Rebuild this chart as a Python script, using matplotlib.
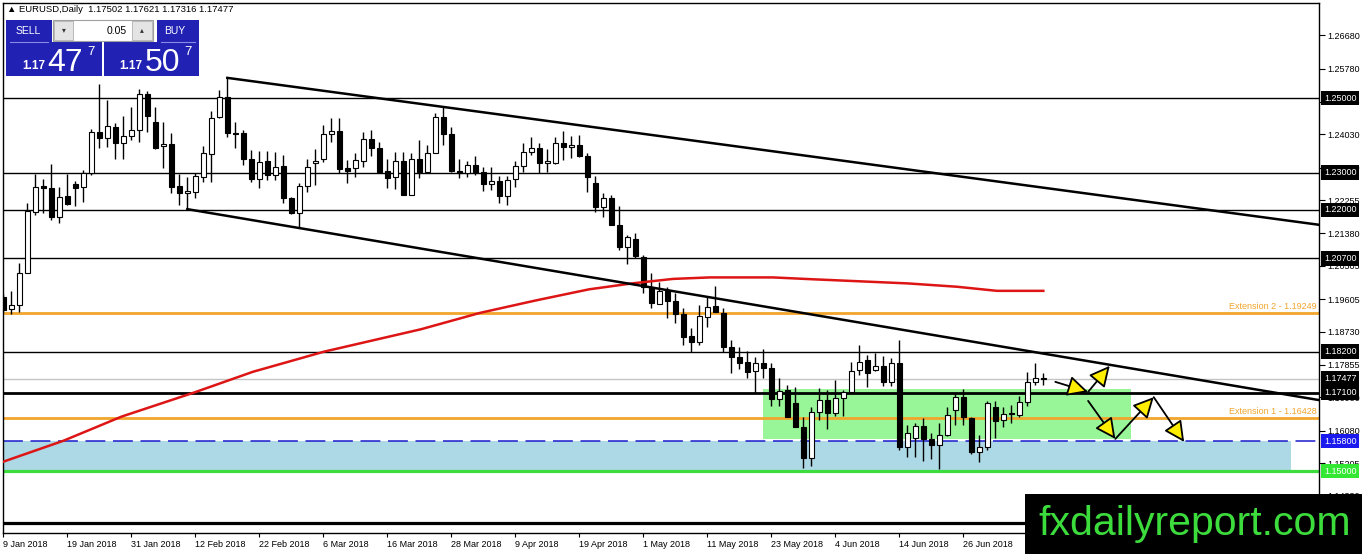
import matplotlib
matplotlib.use('Agg')
import matplotlib.pyplot as plt
import matplotlib.transforms as mtransforms
from matplotlib.patches import Rectangle, FancyArrowPatch
import numpy as np

plt.rcParams['font.family'] = ['Liberation Sans', 'DejaVu Sans']

# EURUSD daily candles (bar 0 = 9 Jan 2018)
opens = [1.1966, 1.1934, 1.1945, 1.2031, 1.2194, 1.2264, 1.2259, 1.2181, 1.2237, 1.2269,
         1.2261, 1.2299, 1.2409, 1.2393, 1.2422, 1.2379, 1.2398, 1.2414, 1.2511, 1.2436,
         1.2371, 1.2377, 1.2264, 1.2245, 1.2248, 1.2288, 1.2350, 1.2449, 1.2503, 1.2406,
         1.2406, 1.2336, 1.2283, 1.2331, 1.2294, 1.2318, 1.2232, 1.2192, 1.2264, 1.2326,
         1.2336, 1.2403, 1.2412, 1.2312, 1.2312, 1.2331, 1.2390, 1.2366, 1.2304, 1.2288,
         1.2331, 1.2240, 1.2336, 1.2302, 1.2353, 1.2449, 1.2403, 1.2304, 1.2299, 1.2320,
         1.2302, 1.2269, 1.2277, 1.2237, 1.2283, 1.2318, 1.2355, 1.2366, 1.2326, 1.2326,
         1.2379, 1.2369, 1.2374, 1.2345, 1.2272, 1.2208, 1.2232, 1.2160, 1.2101, 1.2122,
         1.2074, 1.1993, 1.1948, 1.1983, 1.1956, 1.1921, 1.1862, 1.1846, 1.1913, 1.1942,
         1.1924, 1.1832, 1.1806, 1.1792, 1.1768, 1.1790, 1.1776, 1.1693, 1.1717, 1.1682,
         1.1618, 1.1535, 1.1658, 1.1690, 1.1655, 1.1696, 1.1712, 1.1771, 1.1798, 1.1771,
         1.1782, 1.1739, 1.1790, 1.1564, 1.1588, 1.1621, 1.1586, 1.1570, 1.1597, 1.1664,
         1.1698, 1.1642, 1.1550, 1.1564, 1.1672, 1.1637, 1.1656, 1.1650, 1.1685, 1.1739,
         1.17502]
highs = [1.1975, 1.1983, 1.2058, 1.2218, 1.2296, 1.2283, 1.2323, 1.2261, 1.2296, 1.2277,
         1.2307, 1.2417, 1.2538, 1.2495, 1.2433, 1.2452, 1.2476, 1.2524, 1.2519, 1.2476,
         1.2436, 1.2406, 1.2296, 1.2288, 1.2299, 1.2371, 1.2465, 1.2521, 1.2554, 1.2436,
         1.2414, 1.2361, 1.2358, 1.2358, 1.2355, 1.2347, 1.2235, 1.2272, 1.2336, 1.2363,
         1.2428, 1.2446, 1.2446, 1.2334, 1.2353, 1.2409, 1.2414, 1.2382, 1.2336, 1.2355,
         1.2355, 1.2353, 1.2387, 1.2374, 1.2460, 1.2476, 1.2422, 1.2336, 1.2331, 1.2345,
         1.2315, 1.2315, 1.2291, 1.2291, 1.2331, 1.2379, 1.2395, 1.2379, 1.2363, 1.2395,
         1.2412, 1.2398, 1.2401, 1.2353, 1.2291, 1.2245, 1.2240, 1.2210, 1.2133, 1.2138,
         1.2079, 1.2031, 1.2007, 1.1993, 1.1977, 1.1937, 1.1883, 1.1945, 1.1966, 1.1996,
         1.1937, 1.1851, 1.1832, 1.1822, 1.1806, 1.1827, 1.1790, 1.1749, 1.1731, 1.1725,
         1.1645, 1.1672, 1.1723, 1.1717, 1.1744, 1.1717, 1.1792, 1.1838, 1.1811, 1.1816,
         1.1808, 1.1803, 1.1851, 1.1623, 1.1629, 1.1642, 1.1602, 1.1629, 1.1672, 1.1709,
         1.1720, 1.1645, 1.1597, 1.1688, 1.1688, 1.1672, 1.1677, 1.1701, 1.1765, 1.1790,
         1.17621]
lows = [1.1926, 1.1921, 1.1926, 1.2031, 1.2186, 1.2192, 1.2173, 1.2165, 1.2213, 1.2210,
        1.2221, 1.2294, 1.2366, 1.2369, 1.2336, 1.2336, 1.2387, 1.2382, 1.2409, 1.2363,
        1.2312, 1.2245, 1.2213, 1.2205, 1.2232, 1.2275, 1.2275, 1.2446, 1.2395, 1.2366,
        1.2320, 1.2275, 1.2259, 1.2280, 1.2280, 1.2218, 1.2189, 1.2154, 1.2248, 1.2267,
        1.2328, 1.2382, 1.2299, 1.2272, 1.2288, 1.2315, 1.2345, 1.2302, 1.2259, 1.2256,
        1.2240, 1.2240, 1.2286, 1.2302, 1.2353, 1.2374, 1.2302, 1.2286, 1.2288, 1.2294,
        1.2251, 1.2253, 1.2218, 1.2213, 1.2261, 1.2302, 1.2347, 1.2299, 1.2302, 1.2323,
        1.2334, 1.2339, 1.2342, 1.2248, 1.2194, 1.2181, 1.2160, 1.2092, 1.2055, 1.2071,
        1.1977, 1.1937, 1.1948, 1.1910, 1.1897, 1.1838, 1.1819, 1.1838, 1.1886, 1.1926,
        1.1819, 1.1763, 1.1773, 1.1749, 1.1709, 1.1749, 1.1674, 1.1674, 1.1645, 1.1618,
        1.1508, 1.1513, 1.1637, 1.1613, 1.1647, 1.1647, 1.1712, 1.1757, 1.1725, 1.1768,
        1.1728, 1.1728, 1.1556, 1.1538, 1.1538, 1.1527, 1.1532, 1.1505, 1.1594, 1.1623,
        1.1623, 1.1546, 1.1524, 1.1556, 1.1588, 1.1618, 1.1629, 1.1645, 1.1674, 1.1731,
        1.17316]
closes = [1.1932, 1.1945, 1.2031, 1.2197, 1.2261, 1.2259, 1.2181, 1.2235, 1.2216, 1.2259,
          1.2299, 1.2409, 1.2393, 1.2425, 1.2379, 1.2398, 1.2414, 1.2511, 1.2452, 1.2366,
          1.2377, 1.2261, 1.2245, 1.2251, 1.2291, 1.2353, 1.2446, 1.2503, 1.2406, 1.2403,
          1.2336, 1.2283, 1.2328, 1.2294, 1.2315, 1.2232, 1.2192, 1.2264, 1.2315, 1.2331,
          1.2403, 1.2412, 1.2310, 1.2304, 1.2334, 1.2390, 1.2366, 1.2302, 1.2286, 1.2331,
          1.2240, 1.2336, 1.2302, 1.2353, 1.2449, 1.2403, 1.2304, 1.2299, 1.2320, 1.2302,
          1.2269, 1.2277, 1.2237, 1.2280, 1.2318, 1.2355, 1.2366, 1.2326, 1.2331, 1.2379,
          1.2369, 1.2374, 1.2345, 1.2288, 1.2208, 1.2232, 1.2160, 1.2101, 1.2127, 1.2076,
          1.1993, 1.1950, 1.1983, 1.1956, 1.1921, 1.1859, 1.1846, 1.1916, 1.1940, 1.1926,
          1.1832, 1.1806, 1.1790, 1.1765, 1.1790, 1.1776, 1.1693, 1.1715, 1.1645, 1.1618,
          1.1535, 1.1658, 1.1690, 1.1655, 1.1696, 1.1712, 1.1768, 1.1792, 1.1763, 1.1782,
          1.1739, 1.1790, 1.1564, 1.1602, 1.1621, 1.1586, 1.1570, 1.1597, 1.1650, 1.1698,
          1.1645, 1.1550, 1.1564, 1.1682, 1.1634, 1.1653, 1.1653, 1.1685, 1.1739, 1.1749,
          1.17477]

date_labels = ['9 Jan 2018', '19 Jan 2018', '31 Jan 2018', '12 Feb 2018', '22 Feb 2018',
               '6 Mar 2018', '16 Mar 2018', '28 Mar 2018', '9 Apr 2018', '19 Apr 2018',
               '1 May 2018', '11 May 2018', '23 May 2018', '4 Jun 2018', '14 Jun 2018',
               '26 Jun 2018']
date_step = 8

# slow moving average (red), sampled along the line
ma_bars = [0, 7.5, 14.8, 23.8, 31.2, 40.1, 52.2, 59.6, 66.5, 73.2, 78.6, 83.7, 88.3,
           96.2, 101.2, 105.5, 113, 119.2, 124.2, 130]
ma_vals = [1.1525, 1.1581, 1.1646, 1.1710, 1.1766, 1.1820, 1.1880, 1.1924, 1.1957,
           1.1987, 1.2003, 1.2015, 1.2019, 1.2019, 1.2014, 1.2010, 1.2003, 1.1994,
           1.1983, 1.1983]

price_ticks = [1.26680, 1.25780, 1.24905, 1.24030, 1.23130, 1.22255, 1.21380, 1.20505,
               1.19605, 1.18730, 1.17855, 1.16980, 1.16080, 1.15205, 1.14330]

black_levels = [1.25, 1.23, 1.22, 1.207, 1.182]
support_level = 1.171
current_price = 1.17477
ext_names = ['Extension 2', 'Extension 1']
ext_levels = [1.19249, 1.16428]
dashed_level = 1.158
green_level = 1.150
bottom_level = 1.136

upper_trend = [(28, 1.2554), (164.5, 1.2160)]
lower_trend = [(23, 1.2202), (164.5, 1.1690)]

green_zone = (95.0, 141.0, 1.1586, 1.1720)
blue_zone = (-0.1, 161.0, 1.150, 1.158)

arrow_path_a = [(131.5, 1.1739), (135.6, 1.1712), (138.3, 1.1782)]
arrow_path_b = [(135.6, 1.1688), (139.0, 1.1586), (143.8, 1.1698), (147.6, 1.1578)]

header = '\u25b2 EURUSD,Daily  1.17502 1.17621 1.17316 1.17477'

W, H = 1362, 554
fig = plt.figure(figsize=(W / 100, H / 100), dpi=100)
fig.patch.set_facecolor('white')
ax = fig.add_axes([3 / W, (H - 533) / H, 1316 / W, 530 / H])
ax.set_xlim(-0.04, 164.46)
ax.set_ylim(1.13338, 1.27547)

orange = '#f2a52c'
green = '#3ddc3d'

# zones
gx0, gx1, gy0, gy1 = green_zone
ax.add_patch(Rectangle((gx0, gy0), gx1 - gx0, gy1 - gy0, fc='#98f598', ec='none', zorder=0.5))
bx0, bx1, by0, by1 = blue_zone
ax.add_patch(Rectangle((bx0, by0), bx1 - bx0, by1 - by0, fc='#add8e6', ec='none', zorder=0.4))

# horizontal levels
for lv in black_levels:
    ax.axhline(lv, color='black', lw=1, zorder=1)
ax.axhline(support_level, color='black', lw=2, zorder=1)
ax.axhline(current_price, color='#c4c4c4', lw=1, zorder=1)
ax.axhline(dashed_level, color='#1a1acc', lw=1.1, dashes=(13, 5), zorder=1)
ax.axhline(green_level, color=green, lw=2.3, zorder=1)
ax.axhline(bottom_level, color='black', lw=2.3, zorder=1)
trans_mix = mtransforms.blended_transform_factory(ax.transAxes, ax.transData)
for name, lv in zip(ext_names, ext_levels):
    ax.axhline(lv, color=orange, lw=2, zorder=1)
    ax.text(0.998, lv + 0.0004, f'{name} - {lv:.5f}', transform=trans_mix,
            ha='right', va='bottom', color=orange, fontsize=6.5)

# candles
n = len(opens)
xs = np.arange(n)
o = np.array(opens)
c = np.array(closes)
ax.vlines(xs, lows, highs, color='black', lw=1, zorder=3)
body_low = np.minimum(o, c)
body_h = np.abs(c - o)
colors = np.where(c >= o, 'white', 'black')
ax.bar(xs, body_h, bottom=body_low, width=0.55, color=colors, edgecolor='black', lw=0.8, zorder=3.5)

# moving average
ax.plot(ma_bars, ma_vals, color='#dd1515', lw=1.8, zorder=4, solid_joinstyle='round')

# trend lines
for tl in (upper_trend, lower_trend):
    ax.plot([tl[0][0], tl[1][0]], [tl[0][1], tl[1][1]], color='black', lw=1.8, zorder=4)

# scenario arrows
for path in (arrow_path_a, arrow_path_b):
    for p0, p1 in zip(path[:-1], path[1:]):
        ax.add_patch(FancyArrowPatch(p0, p1, arrowstyle='-|>,head_length=0.9,head_width=0.45',
                                     mutation_scale=14, fc='#ffee00', ec='black', lw=1.3,
                                     shrinkA=0, shrinkB=0, zorder=5))

# axes styling
for sp in ax.spines.values():
    sp.set_color('black')
    sp.set_linewidth(1)
ax.yaxis.tick_right()
ax.set_yticks(price_ticks)
ax.set_yticklabels([f'{t:.5f}' for t in price_ticks])
ax.tick_params(axis='y', direction='out', length=4, width=0.8, pad=2, labelsize=6.5)
ax.set_xticks(np.arange(len(date_labels)) * date_step)
ax.set_xticklabels(date_labels, ha='left')
ax.tick_params(axis='x', direction='out', length=3, width=0.8, pad=2, labelsize=6.5)

# price tags on the right scale
tag_levels = black_levels + [current_price, support_level, dashed_level, green_level]
tag_colors = ['black'] * len(black_levels) + ['black', 'black', '#1a1aee', '#33e833']
for lv, col in zip(tag_levels, tag_colors):
    ax.text(1 + 5 / 1316, lv, f'{lv:.5f}', transform=trans_mix, ha='left', va='center',
            color='white', fontsize=6.5, clip_on=False, zorder=6,
            bbox=dict(boxstyle='square,pad=0.3', fc=col, ec='none'))

# overlay in pixel coordinates: header, one-click panel, site banner
ov = fig.add_axes([0, 0, 1, 1])
ov.set_xlim(0, W)
ov.set_ylim(H, 0)
ov.axis('off')

ov.text(7, 10, header, fontsize=6.8, va='center', ha='left', color='black')

blue = '#2121b4'
ov.add_patch(Rectangle((6, 20), 46, 22, fc=blue, ec='none'))
ov.add_patch(Rectangle((6, 42), 96, 34, fc=blue, ec='none'))
ov.add_patch(Rectangle((157, 20), 42, 22, fc=blue, ec='none'))
ov.add_patch(Rectangle((104, 42), 95, 34, fc=blue, ec='none'))
ov.plot([10, 48], [41.5, 41.5], color='#8a8ae6', lw=0.8)
ov.plot([161, 195], [41.5, 41.5], color='#8a8ae6', lw=0.8)
ov.add_patch(Rectangle((53, 20), 100, 21, fc='white', ec='#a0a0a0', lw=0.8))
ov.add_patch(Rectangle((54, 21), 19, 19, fc='#e4e4e4', ec='#b0b0b0', lw=0.6))
ov.add_patch(Rectangle((132, 21), 20, 19, fc='#e4e4e4', ec='#b0b0b0', lw=0.6))
ov.text(63.5, 31, '\u25be', fontsize=5.5, ha='center', va='center', color='#333333')
ov.text(142, 31, '\u25b4', fontsize=5.5, ha='center', va='center', color='#333333')
ov.text(127, 31, '0.05', fontsize=7.5, ha='right', va='center', color='black')
ov.text(28, 31, 'SELL', fontsize=7.5, ha='center', va='center', color='white')
ov.text(175, 31, 'BUY', fontsize=7.5, ha='center', va='center', color='white')

ov.text(22, 69, '1.17', fontsize=8.5, fontweight='bold', color='white', ha='left', va='baseline')
ov.text(47, 71, '47', fontsize=23, color='white', ha='left', va='baseline')
ov.text(87, 55, '7', fontsize=9.5, color='white', ha='left', va='baseline')
ov.text(119, 69, '1.17', fontsize=8.5, fontweight='bold', color='white', ha='left', va='baseline')
ov.text(145, 71, '50', fontsize=23, color='white', ha='left', va='baseline')
ov.text(184, 55, '7', fontsize=9.5, color='white', ha='left', va='baseline')

ov.add_patch(Rectangle((1025, 494), W - 1025, H - 494, fc='black', ec='none'))
ov.text(1195, 524, 'fxdailyreport.com', fontsize=29.5, color=green, ha='center', va='center')

fig.savefig('out.png', dpi=100)
